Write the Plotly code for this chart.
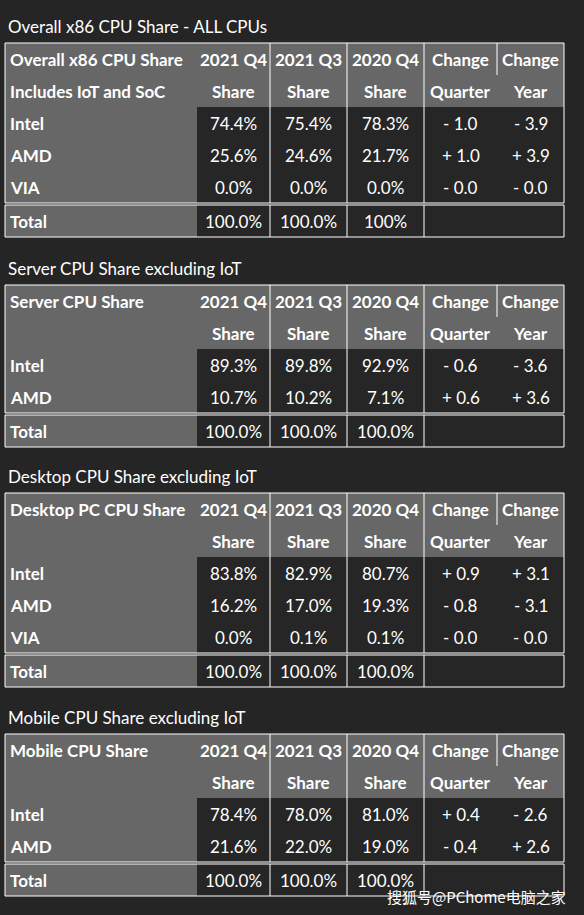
import plotly.graph_objects as go

W, H = 584, 915
BG = "#252525"
GRAY = "#676767"
DARK = "#262626"
FONT = "Lato"

titles = ["Overall x86 CPU Share - ALL CPUs", "Server CPU Share excluding IoT",
          "Desktop CPU Share excluding IoT", "Mobile CPU Share excluding IoT"]
header1 = [["Overall x86 CPU Share", "2021 Q4", "2021 Q3", "2020 Q4", "Change", "Change"],
           ["Server CPU Share", "2021 Q4", "2021 Q3", "2020 Q4", "Change", "Change"],
           ["Desktop PC CPU Share", "2021 Q4", "2021 Q3", "2020 Q4", "Change", "Change"],
           ["Mobile CPU Share", "2021 Q4", "2021 Q3", "2020 Q4", "Change", "Change"]]
header2 = [["Includes IoT and SoC", "Share", "Share", "Share", "Quarter", "Year"],
           ["", "Share", "Share", "Share", "Quarter", "Year"],
           ["", "Share", "Share", "Share", "Quarter", "Year"],
           ["", "Share", "Share", "Share", "Quarter", "Year"]]
rows = [
    [["Intel", "74.4%", "75.4%", "78.3%", "- 1.0", "- 3.9"],
     ["AMD", "25.6%", "24.6%", "21.7%", "+ 1.0", "+ 3.9"],
     ["VIA", "0.0%", "0.0%", "0.0%", "- 0.0", "- 0.0"]],
    [["Intel", "89.3%", "89.8%", "92.9%", "- 0.6", "- 3.6"],
     ["AMD", "10.7%", "10.2%", "7.1%", "+ 0.6", "+ 3.6"]],
    [["Intel", "83.8%", "82.9%", "80.7%", "+ 0.9", "+ 3.1"],
     ["AMD", "16.2%", "17.0%", "19.3%", "- 0.8", "- 3.1"],
     ["VIA", "0.0%", "0.1%", "0.1%", "- 0.0", "- 0.0"]],
    [["Intel", "78.4%", "78.0%", "81.0%", "+ 0.4", "- 2.6"],
     ["AMD", "21.6%", "22.0%", "19.0%", "- 0.4", "+ 2.6"]],
]
totals = [["Total", "100.0%", "100.0%", "100%"],
          ["Total", "100.0%", "100.0%", "100.0%"],
          ["Total", "100.0%", "100.0%", "100.0%"],
          ["Total", "100.0%", "100.0%", "100.0%"]]

# layout geometry (pixels)
col_edges = [5, 197, 270, 347, 424, 497, 564]
row_h = 32
table_tops = [43, 285, 493, 734]

fig = go.Figure()
shapes, annots = [], []


def rect(x0, y0, x1, y1, fill=None, line=None):
    shapes.append(dict(type="rect", x0=x0, y0=y0, x1=x1, y1=y1, layer="below",
                       fillcolor=fill or "rgba(0,0,0,0)",
                       line=dict(color=line or "rgba(0,0,0,0)", width=1 if line else 0)))


def vline(x, y0, y1):
    shapes.append(dict(type="line", x0=x, x1=x, y0=y0, y1=y1, line=dict(color="white", width=1)))


def text(x, y, s, bold=False, anchor="center"):
    annots.append(dict(x=x, y=y, text=f"<b>{s}</b>" if bold else s, showarrow=False,
                       xanchor=anchor, yanchor="middle",
                       font=dict(family=FONT, size=17, color="white")))


L, R = col_edges[0], col_edges[-1]
centers = [(a + b) / 2 for a, b in zip(col_edges[:-1], col_edges[1:])]
for t, top in enumerate(table_tops):
    n = len(rows[t])
    body_bot = top + row_h * (2 + n)
    tot_top = body_bot + 2
    tot_bot = tot_top + row_h
    text(L + 1, top - 17, titles[t], anchor="left")
    # fills
    rect(L, top, R, top + 2 * row_h, fill=GRAY)
    rect(L, top + 2 * row_h, col_edges[1], body_bot, fill=GRAY)
    rect(col_edges[1], top + 2 * row_h, R, body_bot, fill=DARK)
    rect(L, tot_top, col_edges[1], tot_bot, fill=GRAY)
    rect(col_edges[1], tot_top, R, tot_bot, fill=DARK)
    # borders
    rect(L, top, R, body_bot, line="white")
    rect(L, tot_top, R, tot_bot, line="white")
    for x in col_edges[2:5]:
        vline(x, top, body_bot)
        vline(x, tot_top, tot_bot)
    vline(col_edges[5], top, top + row_h)
    # text
    for r, line in enumerate([header1[t], header2[t]] + rows[t]):
        y = top + row_h * (r + 0.5)
        for c, s in enumerate(line):
            if c == 0:
                text(L + 3, y, s, bold=True, anchor="left")
            else:
                text(centers[c], y, s, bold=(r < 2))
    for c, s in enumerate(totals[t]):
        y = (tot_top + tot_bot) / 2
        if c == 0:
            text(L + 3, y, s, bold=True, anchor="left")
        else:
            text(centers[c], y, s)

annots.append(dict(x=568, y=896, text="搜狐号@PChome电脑之家", showarrow=False,
                   xanchor="right", yanchor="middle",
                   font=dict(family="Noto Sans CJK SC", size=15, color="white")))

fig.update_layout(width=W, height=H, margin=dict(l=0, r=0, t=0, b=0),
                  paper_bgcolor=BG, plot_bgcolor=BG, shapes=shapes, annotations=annots,
                  xaxis=dict(range=[0, W], visible=False, fixedrange=True),
                  yaxis=dict(range=[H, 0], visible=False, fixedrange=True),
                  showlegend=False)
fig.write_html("out.html", config={"displayModeBar": False},
               post_script="document.body.style.margin='0';document.body.style.background='#252525';")
